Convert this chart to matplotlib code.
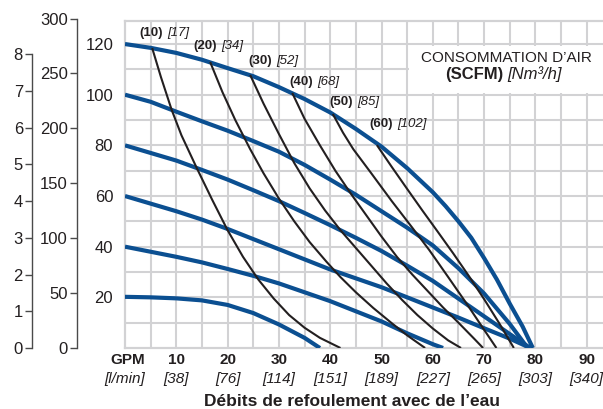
import matplotlib
matplotlib.use('Agg')
import matplotlib.pyplot as plt
from matplotlib.patches import Rectangle
import numpy as np

FONT = ['Liberation Sans', 'DejaVu Sans']
plt.rcParams['font.family'] = FONT

# ---------------- data ----------------
gpm_ticks = [10, 20, 30, 40, 50, 60, 70, 80, 90]
lpm_labels = ['[38]', '[76]', '[114]', '[151]', '[189]', '[227]', '[265]', '[303]', '[340]']
psi_ticks = [20, 40, 60, 80, 100, 120]
ft_ticks = [0, 50, 100, 150, 200, 250, 300]
bar_ticks = [0, 1, 2, 3, 4, 5, 6, 7, 8]

# discharge-pressure curves (air inlet pressure, PSI)
p120_gpm = [0, 5, 10, 15, 20, 25, 30, 35, 40, 45, 50, 55, 60, 62.5, 65, 67.5, 70, 72.5, 75, 77.5, 79.5]
p120_psi = [120, 118.5, 116.5, 113.8, 110.5, 107.3, 103, 98.3, 93, 86.5, 79.5, 71, 61.5, 56, 50, 43.5, 35.5, 27, 17.5, 8.5, 0]
p100_gpm = [0, 5, 10, 15, 20, 25, 30, 35, 40, 45, 50, 55, 60, 65, 70, 75, 78.5]
p100_psi = [100, 97.2, 93.3, 89.5, 85.8, 81.7, 77.5, 72.3, 66.5, 60.5, 54, 47.5, 40.5, 31.5, 21.5, 9.5, 0]
p80_gpm = [0, 5, 10, 15, 20, 25, 30, 35, 40, 45, 50, 55, 60, 65, 70, 75, 79]
p80_psi = [80, 77, 74, 70.3, 66.5, 62.3, 58, 53.3, 48.5, 43.5, 38.3, 32.5, 26.5, 19.5, 12.5, 5.5, 0]
p60_gpm = [0, 5, 10, 15, 20, 25, 30, 35, 40, 45, 50, 55, 60, 65, 70, 75, 79]
p60_psi = [60, 57, 54, 50.7, 47, 43, 39, 35, 31, 27.5, 24, 20, 16, 12, 7.8, 3.7, 0]
p40_gpm = [0, 5, 10, 15, 20, 25, 30, 35, 40, 45, 50, 55, 60, 62]
p40_psi = [40, 38, 36, 33.8, 31.2, 28.5, 25.5, 22, 18.5, 14.5, 10.5, 5.8, 1.5, 0]
p20_gpm = [0, 5, 10, 15, 20, 25, 30, 35, 38]
p20_psi = [20.2, 20, 19.6, 18.8, 17, 13.8, 9.3, 4, 0]

# air consumption curves
a10_gpm = [5.3, 7, 9.1, 11, 14, 17, 20, 23, 26, 29, 32, 35, 38, 42]
a10_psi = [118.4, 107, 94, 84, 71, 58.5, 46.5, 36, 27, 19.5, 13, 8, 4, 0]
a20_gpm = [16.6, 19, 21.5, 24.4, 27, 30, 33, 36, 39.3, 42, 45, 48.4, 52, 55, 58.5]
a20_psi = [112.9, 101, 90, 78.5, 69, 59, 50, 41.8, 34, 28, 22, 15.8, 9.8, 5, 0]
a30_gpm = [24.4, 27, 30, 33, 36, 39, 42, 45, 48, 51, 54, 57, 60, 63, 65.5]
a30_psi = [107.8, 96.5, 84.5, 73, 63, 54.3, 46.5, 39.5, 32.5, 25.5, 19, 13, 7.7, 3, 0]
a40_gpm = [32.6, 35, 38, 41, 44, 47, 50, 53, 56, 59, 62, 65, 68, 69.8]
a40_psi = [100.7, 90.5, 80, 70, 61, 52.5, 44, 36, 29, 22.5, 16, 10, 3.8, 0]
a50_gpm = [40.5, 42.5, 44.5, 48, 52, 56, 59.3, 63, 66.5, 70, 72.4]
a50_psi = [92.4, 85, 78.5, 69, 58, 47.5, 38.7, 28, 17.8, 7.2, 0]
a60_gpm = [49.1, 52, 55, 58, 61, 64, 67, 70, 73, 75.8]
a60_psi = [80.1, 71.5, 62.8, 54.2, 45.8, 37.3, 28.5, 19.3, 9.6, 0]

air_scfm = ['(10)', '(20)', '(30)', '(40)', '(50)', '(60)']
air_nm3 = ['[17]', '[34]', '[52]', '[68]', '[85]', '[102]']

# ---------------- layout ----------------
W, H = 603, 409
BOT, TOP, LEFT = 348, 21, 125
PX_PER_GPM = 5.13
PSI_TO_FT = 2.3067
PSI_PER_BAR = 14.5038

fig = plt.figure(figsize=(W / 100, H / 100), dpi=100)
ax = fig.add_axes([LEFT / W, (H - BOT) / H, (W - LEFT) / W, (BOT - TOP) / H])
xmax = (W - LEFT) / PX_PER_GPM
psi_top = 129.1
ax.set_xlim(0, xmax)
ax.set_ylim(0, psi_top)
psi_px = (BOT - TOP) / psi_top

GRID = '#d2d2d4'
BLUE = '#0b4f91'
BLACK = '#231f20'
TXT = '#231f20'

ax.set_axisbelow(True)
ax.set_xticks(np.arange(5, 95, 5))
ax.set_yticks(np.arange(10, 130, 10))
ax.grid(True, color=GRID, linewidth=1.5)
ax.tick_params(axis='x', length=0, labelbottom=False)
ylabels = [str(v) if v in psi_ticks else '' for v in range(10, 130, 10)]
ax.set_yticklabels(ylabels)
ax.tick_params(axis='y', length=0, pad=8.5, labelsize=12, labelcolor=TXT)
for s in ['left', 'top', 'bottom']:
    ax.spines[s].set_color(GRID)
    ax.spines[s].set_linewidth(1.6)
ax.spines['right'].set_visible(False)

# white box behind the legend title
ax.add_patch(Rectangle((55.4, 100.6), 60, 18.8, facecolor='white', edgecolor='none', zorder=1))

blue_sets = [(p120_gpm, p120_psi), (p100_gpm, p100_psi), (p80_gpm, p80_psi),
             (p60_gpm, p60_psi), (p40_gpm, p40_psi), (p20_gpm, p20_psi)]
for gx, gy in blue_sets:
    ax.plot(gx, gy, color=BLUE, linewidth=3.0, solid_joinstyle='round', solid_capstyle='butt', zorder=3)

black_sets = [(a10_gpm, a10_psi), (a20_gpm, a20_psi), (a30_gpm, a30_psi),
              (a40_gpm, a40_psi), (a50_gpm, a50_psi), (a60_gpm, a60_psi)]
for gx, gy in black_sets:
    ax.plot(gx, gy, color=BLACK, linewidth=1.5, solid_joinstyle='round', solid_capstyle='butt', zorder=4)

# labels of the air consumption curves
lab_dx = [11, 7, 22, 21, 20, 16]
lab_dy = [15, 16, 14, 11, 12, 21]
for (gx, gy), s1, s2, dx, dy in zip(black_sets, air_scfm, air_nm3, lab_dx, lab_dy):
    ax.annotate(s1, xy=(gx[0], gy[0]), xytext=(dx, dy), textcoords='offset pixels',
                ha='right', va='center', fontsize=9.5, fontweight='bold', color=TXT, zorder=5)
    ax.annotate(s2, xy=(gx[0], gy[0]), xytext=(dx + 4, dy), textcoords='offset pixels',
                ha='left', va='center', fontsize=9.5, fontstyle='italic', color=TXT, zorder=5)

# x tick labels (two rows)
tr = ax.get_xaxis_transform()
y1 = (BOT - 360) / (BOT - TOP)
y2 = (BOT - 379) / (BOT - TOP)
ax.text(0.5, y1, 'GPM', transform=tr, ha='center', va='center', fontsize=11, fontweight='bold', color=TXT)
ax.text(0, y2, '[l/min]', transform=tr, ha='center', va='center', fontsize=11, fontstyle='italic', color=TXT)
for g, l in zip(gpm_ticks, lpm_labels):
    ax.text(g, y1, str(g), transform=tr, ha='center', va='center', fontsize=11, fontweight='bold', color=TXT)
    ax.text(g, y2, l, transform=tr, ha='center', va='center', fontsize=11, fontstyle='italic', color=TXT)

fig.text(352 / W, 1 - 401 / H, 'Débits de refoulement avec de l\u2019eau', ha='center', va='center',
         fontsize=12.5, fontweight='bold', color=TXT)

# legend title
fig.text(506 / W, 1 - 58 / H, 'CONSOMMATION D\u2019AIR', ha='center', va='center', fontsize=11, color=TXT)
fig.text(503 / W, 1 - 74 / H, '(SCFM)', ha='right', va='center', fontsize=12, fontweight='bold', color=TXT)
fig.text(507 / W, 1 - 74 / H, '[Nm³/h]', ha='left', va='center', fontsize=12, fontstyle='italic', color=TXT)

# secondary scales: feet and bar
AXC = '#4a4a4a'
def side_axis(xpix, top_psi):
    hpx = top_psi * psi_px
    a = fig.add_axes([xpix / W, (H - BOT) / H, 0.0001, hpx / H])
    a.set_xticks([])
    for s in ['right', 'top', 'bottom']:
        a.spines[s].set_visible(False)
    a.spines['left'].set_color(AXC)
    a.spines['left'].set_linewidth(1.0)
    a.patch.set_visible(False)
    return a

ax_ft = side_axis(77, 300 / PSI_TO_FT)
ax_ft.set_ylim(0, 300)
ax_ft.set_yticks(ft_ticks)
ax_ft.set_yticklabels([str(t) for t in ft_ticks])
ax_ft.tick_params(axis='y', direction='out', length=5, width=1.0, color=AXC, pad=1.5, labelsize=12, labelcolor=TXT)

ax_bar = side_axis(32, 8 * PSI_PER_BAR)
ax_bar.set_ylim(0, 8)
ax_bar.set_yticks(bar_ticks)
ax_bar.set_yticklabels([str(t) for t in bar_ticks])
ax_bar.tick_params(axis='y', direction='out', length=5, width=1.0, color=AXC, pad=1.5, labelsize=12, labelcolor=TXT)

fig.savefig('out.png', dpi=100)
